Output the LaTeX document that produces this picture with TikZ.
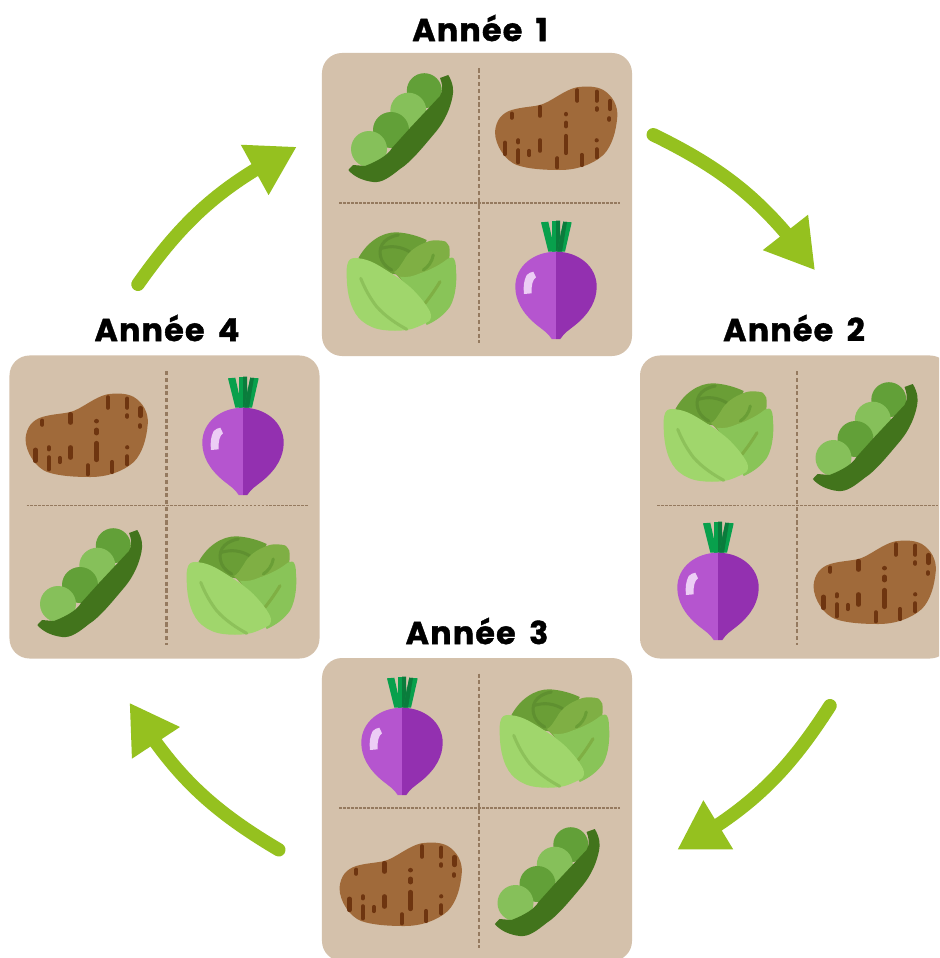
\documentclass[tikz,border=0pt]{standalone}
\usepackage{fontspec}
\newfontfamily\yearfont[FakeBold=1.2, LetterSpace=4, WordSpace=1.7]{Poppins Bold}
\usetikzlibrary{arrows.meta, bending, positioning, calc}
\definecolor{cardtan}{HTML}{D4C1AB}
\definecolor{gridbrown}{HTML}{957A5F}
\definecolor{arrowgreen}{HTML}{95C11F}
\definecolor{podgreen}{HTML}{42741C}
\definecolor{peadark}{HTML}{62A038}
\definecolor{pealight}{HTML}{86C05A}
\definecolor{potatoskin}{HTML}{A06A3A}
\definecolor{potatospot}{HTML}{6E3510}
\definecolor{cabbagehead}{HTML}{6A9E36}
\definecolor{cabbagevein}{HTML}{5F9030}
\definecolor{cabbagemid}{HTML}{7FAF44}
\definecolor{cabbageside}{HTML}{89C458}
\definecolor{cabbagefront}{HTML}{A0D66C}
\definecolor{turnipleft}{HTML}{B555CF}
\definecolor{turnipright}{HTML}{9330B0}
\definecolor{turnipshine}{HTML}{ECCDF5}
\definecolor{leaflight}{HTML}{08A04C}
\definecolor{leafdark}{HTML}{0A7C3C}
\tikzset{
  card/.style={fill=cardtan, rounded corners=0.6cm, minimum width=9.3cm, minimum height=9.09cm, inner sep=0pt},
  yearlabel/.style={font=\yearfont\fontsize{27}{27}\selectfont, text=black, inner sep=0pt},
  gridline/.style={draw=gridbrown, line width=1.5pt},
  cyclearrow/.style={draw=arrowgreen, line width=11.5pt, line cap=round,
    -{Triangle[length=41pt, width=46pt, fill=arrowgreen, flex]}},
  pics/fieldgrid/.style={code={
    \draw[gridline, line width=1.8pt, dash pattern=on 3.5pt off 2.3pt] (2,-136) -- (2,138);
    \draw[gridline, dash pattern=on 2.4pt off 1pt] (-138,-1.5) -- (143,-1.5);
  }},
  pics/peapod/.style={code={
    \fill[peadark] (24.3,-37.3) circle (17.5);
    \fill[pealight] (8.3,-17.3) circle (18);
    \fill[peadark] (-9,2) circle (18);
    \fill[pealight] (-31,21) circle (18);
    \fill[podgreen] (48.3,-53) .. controls (53,-45) and (54,-38) .. (52.5,-31.3)
      .. controls (49,-14) and (41,-2) .. (34,6)
      .. controls (23,19) and (11,34) .. (0,41)
      .. controls (-10,49) and (-18,55) .. (-26.7,54)
      .. controls (-36,53) and (-46,49) .. (-51.7,42)
      -- (-47,37) -- (-35,38) .. controls (-22,33) and (-12,27) .. (-8,20)
      -- (10,0) -- (40,-32) .. controls (44,-38) and (42,-45) .. (40,-50) -- cycle;
  }},
  pics/potato/.style={code={
    \fill[potatoskin] (-61,3.7) .. controls (-60,-8) and (-54,-15) .. (-44.3,-18)
      .. controls (-34,-21) and (-25,-21) .. (-16,-23)
      .. controls (-5,-26) and (8,-38) .. (20.7,-40.7)
      .. controls (30,-42) and (40,-42) .. (47.3,-38)
      .. controls (57,-32) and (62,-22) .. (61.3,-11.3)
      .. controls (60,4) and (56,18) .. (47.3,27)
      .. controls (36,37) and (20,42) .. (4,42)
      .. controls (-12,42) and (-28,41) .. (-39.3,37)
      .. controls (-50,33) and (-61,18) .. (-61,3.7) -- cycle;
    \foreach \sx/\sa/\sb in {21.3/-38.7/-26.3, 40.7/-37.3/-26.3, 54/-28/-18, -16/-22/-11.3,
      -44.3/-15.3/-9.3, 10/-14.7/-13, 10/-6.3/-0.7, 40.7/-20.7/-17.3, 53.3/-10.7/-7.3,
      10/7/26, -37.7/11.3/15.3, 40.7/11.3/13.3, -16/11.3/23.7, -51/13.7/27,
      -37.7/21.3/35.3, -26.7/22/28, 40.7/20.3/30.3, 25.7/26/38, 1.3/29.3/40.3}
      \draw[potatospot, line width=3.6pt, line cap=round] (\sx,\sa+1) -- (\sx,\sb-1);
  }},
  pics/cabbage/.style={code={
    \fill[cabbagehead] (-43.7,-23.7) .. controls (-35,-40) and (-20,-50) .. (-5.3,-49.7)
      .. controls (6,-49) and (16,-46) .. (24.7,-42) -- (10,-5) -- (-20,-10) -- cycle;
    \draw[cabbagevein, line width=2.6pt, line cap=round] (-3.7,-47) .. controls (-20,-44) and (-25,-33) .. (-20.3,-22)
      .. controls (-18,-17) and (-14,-14) .. (-10.3,-12);
    \draw[cabbagevein, line width=2.6pt, line cap=round] (-20.3,-33.7) .. controls (-10,-37) and (0,-35) .. (8,-30);
    \fill[cabbagemid] (47,-20) .. controls (48,-30) and (48,-36) .. (46.3,-37)
      .. controls (44,-41) and (42,-41.3) .. (39.7,-41.3)
      .. controls (34,-42) and (29,-42) .. (24.7,-40)
      .. controls (14,-36) and (6,-30) .. (2,-22)
      .. controls (-2,-16) and (-4,-12) .. (-8,-10) -- (10,10) -- (40,-5) -- cycle;
    \draw[cabbagehead, line width=2.6pt, line cap=round] (31.3,-27) .. controls (30,-20) and (26,-15) .. (21.3,-12);
    \fill[cabbageside] (46,-23.5) -- (50,-24.5) .. controls (53,-24.5) and (54,-18) .. (54,-12)
      .. controls (55,-2) and (54,14) .. (48,24.7)
      .. controls (42,33) and (34,39) .. (24.7,43) -- (-2,-5.3)
      .. controls (5,-4) and (12,-6) .. (18,-8.7)
      .. controls (28,-12) and (38,-17) .. (46,-23.5) -- cycle;
    \draw[cabbagemid, line width=2.6pt, line cap=round] (38,-0.3) .. controls (33,8) and (28,15) .. (23,21.3);
    \fill[cabbagefront] (-55.3,-5) .. controls (-55.5,-12) and (-55.5,-16) .. (-53.7,-20.3)
      .. controls (-52,-24) and (-48,-24.5) .. (-43.7,-23.7)
      .. controls (-35,-23) and (-27,-19) .. (-18.7,-13.7)
      .. controls (-8,-7) and (3,0) .. (11.3,8)
      .. controls (18,15) and (24,22) .. (28,29.7)
      .. controls (30,34) and (29,38) .. (26.3,39.7)
      .. controls (18,44) and (12,47) .. (4.7,48)
      .. controls (-3,49) and (-11,49) .. (-18.7,48)
      .. controls (-27,47) and (-34,44) .. (-40,39)
      .. controls (-50,31) and (-55,14) .. (-55.3,-5) -- cycle;
    \draw[cabbagefront!70!cabbagevein, line width=2.6pt, line cap=round] (-41.3,-3.7) .. controls (-37,7) and (-32,16) .. (-25.3,24.7)
      .. controls (-16,35) and (-5,42) .. (4.7,47.3);
  }},
  pics/turnip/.style={code={
    \fill[leaflight] (-15,-57.7) -- (-7.7,-58.3) -- (-1,-28.3) -- (-7.7,-28.3) -- cycle;
    \fill[leaflight] (-4.3,-59.3) -- (0,-59.3) -- (0,-28.3) -- (-4.3,-28.3) -- cycle;
    \fill[leafdark] (0,-59.3) -- (4,-59.3) -- (4.7,-28.3) -- (0,-28.3) -- cycle;
    \fill[leaflight] (7.3,-58.3) -- (15.7,-57.7) -- (9,-28.3) -- (1.3,-28.3) -- cycle;
    \fill[leafdark] (4.5,-45) -- (7.3,-58.3) -- (11,-58) -- (6,-28.3) -- (1.3,-28.3) -- cycle;
    \fill[turnipleft] (0,-28.3) .. controls (-22,-28.3) and (-40.7,-14) .. (-40.7,6.7)
      .. controls (-40.7,20) and (-34,33) .. (-19.3,45)
      .. controls (-13,50) and (-8,53) .. (-4.3,59) -- (0,59) -- cycle;
    \fill[turnipright] (0,-28.3) .. controls (22,-28.3) and (40.7,-14) .. (40.7,6.7)
      .. controls (40.7,20) and (34,33) .. (19.3,45)
      .. controls (13,50) and (8,53) .. (4.3,59) -- (0,59) -- cycle;
    \fill[turnipshine] (-29.3,-5) .. controls (-27,-7) and (-25,-8) .. (-22.7,-8.3) -- (-20,-2.7)
      .. controls (-23,-1) and (-25,5) .. (-24.3,13.3) -- (-32,14)
      .. controls (-33,7) and (-32,0) .. (-29.3,-5) -- cycle;
  }}
}

\begin{document}
\begin{tikzpicture}[x=0.03cm, y=-0.03cm]
  \clip (0,0) rectangle (939,958);
  \fill[white] (0,0) rectangle (939,958);

  % the four plots
  \foreach \cardname/\cx/\cy in {cardOne/477/204.5, cardTwo/795/507, cardThree/477/809.5, cardFour/164.5/507} {
    \node[card] (\cardname) at (\cx,\cy) {};
    \pic at (\cardname.center) {fieldgrid};
  }

  % titles
  \node[yearlabel] (yearOne) at (480,28) {Année 1};
  \node[yearlabel] (yearTwo) at (794,328) {Année 2};
  \node[yearlabel] (yearThree) at (477,631) {Année 3};
  \node[yearlabel] (yearFour) at (167,328) {Année 4};

  % year 1
  \pic at (400,128) {peapod};
  \pic at (556,128) {potato};
  \pic at (402,282) {cabbage};
  \pic at (556,280) {turnip};
  % year 2
  \pic at (719,433) {cabbage};
  \pic at (864.5,437) {peapod};
  \pic at (718,581) {turnip};
  \pic at (874.5,582) {potato};
  % year 3
  \pic at (402,736) {turnip};
  \pic at (555,739) {cabbage};
  \pic at (400.5,884) {potato};
  \pic at (546.5,882) {peapod};
  % year 4
  \pic at (86.5,435) {potato};
  \pic at (243,436) {turnip};
  \pic at (89,583) {peapod};
  \pic at (242,586) {cabbage};

  % arrows between the years
  \coordinate (fromOne) at ([shift={(21,82)}]cardOne.north east);
  \coordinate (toTwo) at ([shift={(20,-85)}]cardTwo.north);
  \coordinate (fromTwo) at ([shift={(35,47)}]cardTwo.south);
  \coordinate (toThree) at ([shift={(45,192)}]cardThree.north east);
  \coordinate (fromThree) at ([shift={(-43,192)}]cardThree.north west);
  \coordinate (toFour) at ([shift={(-35,44)}]cardFour.south);
  \coordinate (fromFour) at ([shift={(-26.5,-71)}]cardFour.north);
  \coordinate (toOne) at ([shift={(-25,94)}]cardOne.north west);

  \draw[cyclearrow] (fromOne) to[bend left=14] (toTwo);
  \draw[cyclearrow] (fromTwo) to[bend left=14] (toThree);
  \draw[cyclearrow] (fromThree) to[bend left=14] (toFour);
  \draw[cyclearrow] (fromFour) to[bend left=14] (toOne);
\end{tikzpicture}
\end{document}
